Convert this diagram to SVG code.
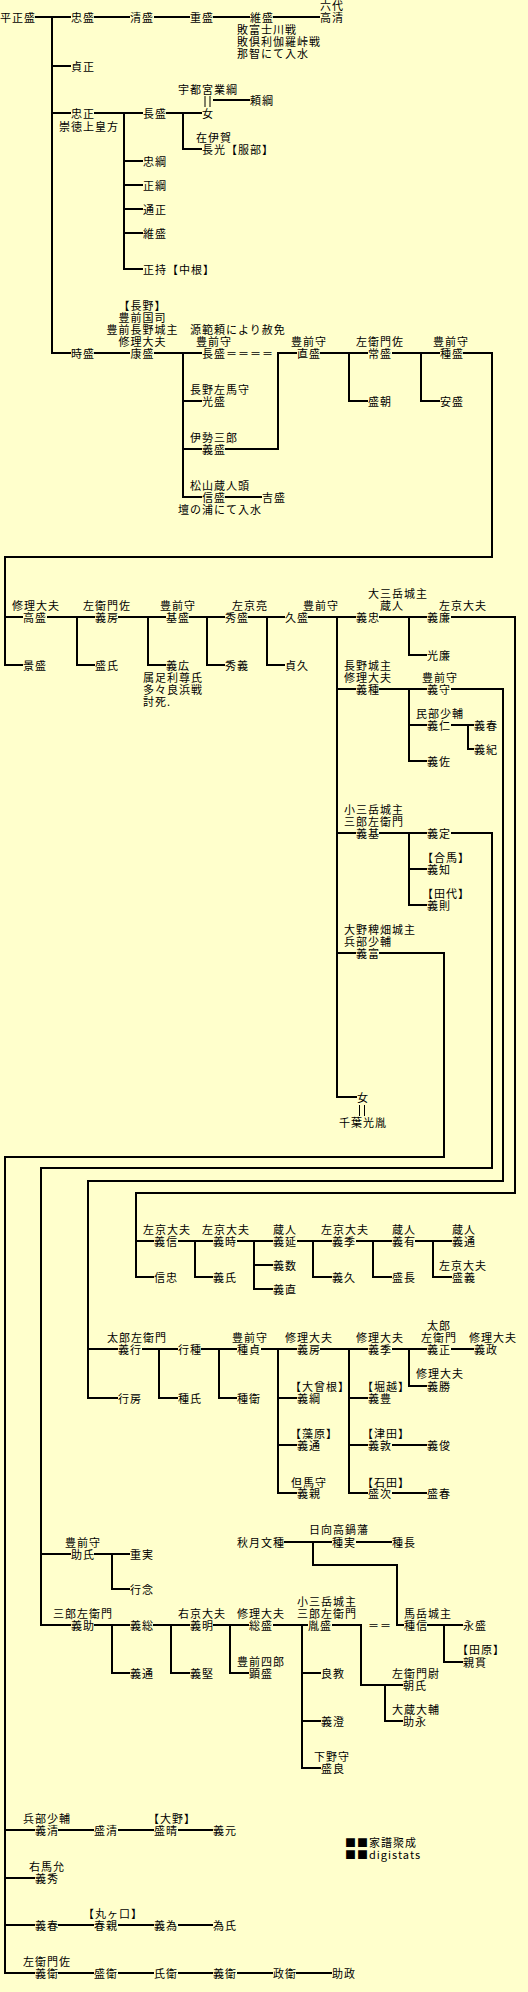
<svg xmlns="http://www.w3.org/2000/svg" width="528" height="1992" viewBox="0 0 528 1992">
<style>
text{font-family:"Noto Sans CJK JP","Noto Sans CJK SC",sans-serif;font-size:11px;letter-spacing:1px;fill:#000;dominant-baseline:central}
.m{text-anchor:middle}
#connectors path{fill:none;stroke:#000;stroke-width:2;stroke-linejoin:miter}
#connectors .thin{stroke-width:1}
</style>
<rect width="528" height="1992" fill="#FFFFCC"/>
<g id="connectors">
<path d="M35,17H71M52,17V353H71M94,17H130M154,17H190M213,17H250M273,17H320"/>
<path d="M52,66H71M52,113H71M94,113H143M124,113V269H143M124,161H143M124,185H143M124,209H143M124,233H143"/>
<path d="M166,113H202M183,113V149H202M213,100H250"/>
<path class="thin" d="M205,96V107M210,96V107M359.5,1105V1116M364.5,1105V1116"/>
<path d="M94,353H130M154,353H202M183,353V497H202M183,401H202M183,449H202M225,449H278V353H297M225,497H262"/>
<path d="M320,353H368M349,353V401H368M392,353H440M421,353V401H440M463,353H492V557H5V665H23M5,617H23"/>
<path d="M47,617H95M77,617V665H95M118,617H166M148,617V665H166M189,617H225M207,617V665H225M248,617H285M267,617V665H285"/>
<path d="M308,617H356M337,617V1097H357M379,617H427M409,617V655H427M451,617H515V1193H136V1277H154M136,1241H154"/>
<path d="M337,689H356M379,689H427M409,689V761H427M409,725H427M451,689H503V1181H88V1398H118M88,1349H118M451,725H474M468,725V749H474"/>
<path d="M337,833H356M379,833H427M409,833V905H427M409,869H427M451,833H492V1168H41V1625H71M41,1554H71"/>
<path d="M337,953H356M379,953H444V1157H5V1973H35M5,1830H35M5,1878H35M5,1925H35"/>
<path d="M178,1241H213M195,1241V1277H213M237,1241H273M254,1241V1289H273M254,1265H273M297,1241H332M313,1241V1277H332M356,1241H392M373,1241V1277H392M415,1241H452M433,1241V1277H452"/>
<path d="M142,1349H178M159,1349V1398H178M201,1349H237M219,1349V1398H237M261,1349H297M278,1349V1493H297M278,1398H297M278,1445H297"/>
<path d="M320,1349H368M349,1349V1493H368M349,1398H368M349,1445H368M392,1445H427M392,1493H427M392,1349H427M409,1349V1386H427M451,1349H474"/>
<path d="M284,1542H332M356,1542H392M313,1542V1565H397V1625H404"/>
<path d="M94,1554H130M112,1554V1589H130M94,1625H130M112,1625V1673H130M153,1625H190M171,1625V1673H190M213,1625H249M230,1625V1673H249M273,1625H308M302,1625V1768H321M302,1673H321M302,1721H321"/>
<path d="M332,1625H361V1685H403M385,1685V1721H403M427,1625H463M444,1625V1662H463"/>
<path d="M58,1830H94M118,1830H154M178,1830H213M58,1925H94M118,1925H154M178,1925H213M58,1973H94M118,1973H154M178,1973H213M237,1973H273M296,1973H332"/>
</g>
<g id="n_masamori"><text x="0" y="17">平正盛</text></g>
<g id="n_tadamori"><text x="71" y="17">忠盛</text></g>
<g id="n_kiyomori"><text x="130" y="17">清盛</text></g>
<g id="n_shigemori"><text x="190" y="17">重盛</text></g>
<g id="n_koremori"><text><tspan x="250" y="17">維盛</tspan><tspan x="237" y="29">敗富士川戦</tspan><tspan x="237" y="41">敗倶利伽羅峠戦</tspan><tspan x="237" y="53">那智にて入水</tspan></text></g>
<g id="n_takakiyo"><text><tspan x="320" y="5">六代</tspan><tspan x="320" y="17">高清</tspan></text></g>
<g id="n_sadamasa"><text x="71" y="66">貞正</text></g>
<g id="n_tadamasa"><text><tspan x="71" y="113">忠正</tspan><tspan x="59" y="126">崇徳上皇方</tspan></text></g>
<g id="n_nagamori1"><text x="143" y="113">長盛</text></g>
<g id="n_narituna"><text x="178" y="89">宇都宮業綱</text></g>
<g id="n_onna1"><text x="202" y="113">女</text></g>
<g id="n_yorituna"><text x="250" y="100">頼綱</text></g>
<g id="n_nagamitsu"><text><tspan x="196" y="137">在伊賀</tspan><tspan x="202" y="149">長光【服部】</tspan></text></g>
<g id="n_tadatuna"><text x="143" y="161">忠綱</text></g>
<g id="n_masatuna"><text x="143" y="185">正綱</text></g>
<g id="n_michimasa"><text x="143" y="209">通正</text></g>
<g id="n_koremori2"><text x="143" y="233">維盛</text></g>
<g id="n_masamochi"><text x="143" y="269">正持【中根】</text></g>
<g id="n_yasumori"><text class="m"><tspan x="142.5" y="305">【長野】</tspan><tspan x="142.5" y="317">豊前国司</tspan><tspan x="142.5" y="329">豊前長野城主</tspan><tspan x="142.5" y="341">修理大夫</tspan><tspan x="142.5" y="353">康盛</tspan></text></g>
<g id="n_tokimori"><text x="71" y="353">時盛</text></g>
<g id="n_nagamori2"><text><tspan x="190" y="329">源範頼により赦免</tspan><tspan x="196" y="341">豊前守</tspan><tspan x="202" y="353">長盛＝＝＝＝</tspan></text></g>
<g id="n_mitsumori"><text><tspan x="190" y="389">長野左馬守</tspan><tspan x="202" y="401">光盛</tspan></text></g>
<g id="n_yoshimori"><text><tspan x="190" y="437">伊勢三郎</tspan><tspan x="202" y="449">義盛</tspan></text></g>
<g id="n_nobumori"><text><tspan x="190" y="485">松山蔵人頭</tspan><tspan x="202" y="497">信盛</tspan><tspan x="178" y="509">壇の浦にて入水</tspan></text></g>
<g id="n_yoshimori2"><text x="262" y="497">吉盛</text></g>
<g id="n_naomori"><text><tspan x="291" y="341">豊前守</tspan><tspan x="297" y="353">直盛</tspan></text></g>
<g id="n_tunemori"><text><tspan x="356" y="341">左衛門佐</tspan><tspan x="368" y="353">常盛</tspan></text></g>
<g id="n_moritomo"><text x="368" y="401">盛朝</text></g>
<g id="n_tanemori"><text><tspan x="433" y="341">豊前守</tspan><tspan x="440" y="353">種盛</tspan></text></g>
<g id="n_yasumori2"><text x="440" y="401">安盛</text></g>
<g id="n_takamori"><text><tspan x="12" y="605">修理大夫</tspan><tspan x="23" y="617">高盛</tspan></text></g>
<g id="n_kagemori"><text x="23" y="665">景盛</text></g>
<g id="n_yoshifusa"><text><tspan x="83" y="605">左衛門佐</tspan><tspan x="95" y="617">義房</tspan></text></g>
<g id="n_moriuji"><text x="95" y="665">盛氏</text></g>
<g id="n_motomori"><text><tspan x="160" y="605">豊前守</tspan><tspan x="166" y="617">基盛</tspan></text></g>
<g id="n_yoshihiro"><text><tspan x="166" y="665">義広</tspan><tspan x="143" y="677">属足利尊氏</tspan><tspan x="143" y="689">多々良浜戦</tspan><tspan x="143" y="701">討死.</tspan></text></g>
<g id="n_hidemori"><text><tspan x="232" y="605">左京亮</tspan><tspan x="225" y="617">秀盛</tspan></text></g>
<g id="n_hideyoshi"><text x="225" y="665">秀義</text></g>
<g id="n_hisamori"><text><tspan x="303" y="605">豊前守</tspan><tspan x="285" y="617">久盛</tspan></text></g>
<g id="n_sadahisa"><text x="285" y="665">貞久</text></g>
<g id="n_yoshitada"><text><tspan x="368" y="593">大三岳城主</tspan><tspan x="380" y="605">蔵人</tspan><tspan x="356" y="617">義忠</tspan></text></g>
<g id="n_yoshikado"><text><tspan x="439" y="605">左京大夫</tspan><tspan x="427" y="617">義廉</tspan></text></g>
<g id="n_mitsukado"><text x="427" y="655">光廉</text></g>
<g id="n_yoshitane"><text><tspan x="344" y="665">長野城主</tspan><tspan x="344" y="677">修理大夫</tspan><tspan x="356" y="689">義種</tspan></text></g>
<g id="n_yoshimori3"><text><tspan x="422" y="677">豊前守</tspan><tspan x="427" y="689">義守</tspan></text></g>
<g id="n_yoshihito"><text><tspan x="416" y="713">民部少輔</tspan><tspan x="427" y="725">義仁</tspan></text></g>
<g id="n_yoshiharu1"><text x="474" y="725">義春</text></g>
<g id="n_yoshinori1"><text x="474" y="749">義紀</text></g>
<g id="n_yoshisuke1"><text x="427" y="761">義佐</text></g>
<g id="n_yoshimoto"><text><tspan x="344" y="809">小三岳城主</tspan><tspan x="344" y="821">三郎左衛門</tspan><tspan x="356" y="833">義基</tspan></text></g>
<g id="n_yoshisada"><text x="427" y="833">義定</text></g>
<g id="n_yoshitomo"><text><tspan x="422" y="857">【合馬】</tspan><tspan x="427" y="869">義知</tspan></text></g>
<g id="n_yoshinori2"><text><tspan x="422" y="893">【田代】</tspan><tspan x="427" y="905">義則</tspan></text></g>
<g id="n_yoshitomi"><text><tspan x="344" y="929">大野稗畑城主</tspan><tspan x="344" y="941">兵部少輔</tspan><tspan x="356" y="953">義富</tspan></text></g>
<g id="n_onna2"><text><tspan x="357" y="1097">女</tspan><tspan x="339" y="1122">千葉光胤</tspan></text></g>
<g id="n_yoshinobu"><text><tspan x="143" y="1229">左京大夫</tspan><tspan x="154" y="1241">義信</tspan></text></g>
<g id="n_nobutada"><text x="154" y="1277">信忠</text></g>
<g id="n_yoshitoki"><text><tspan x="202" y="1229">左京大夫</tspan><tspan x="213" y="1241">義時</tspan></text></g>
<g id="n_yoshiuji"><text x="213" y="1277">義氏</text></g>
<g id="n_yoshinobu2"><text><tspan x="273" y="1229">蔵人</tspan><tspan x="273" y="1241">義延</tspan></text></g>
<g id="n_yoshikazu"><text x="273" y="1265">義数</text></g>
<g id="n_yoshinao"><text x="273" y="1289">義直</text></g>
<g id="n_yoshisue1"><text><tspan x="321" y="1229">左京大夫</tspan><tspan x="332" y="1241">義季</tspan></text></g>
<g id="n_yoshihisa"><text x="332" y="1277">義久</text></g>
<g id="n_yoshiari"><text><tspan x="392" y="1229">蔵人</tspan><tspan x="392" y="1241">義有</tspan></text></g>
<g id="n_torinaga"><text x="392" y="1277">盛長</text></g>
<g id="n_yoshimichi1"><text><tspan x="452" y="1229">蔵人</tspan><tspan x="452" y="1241">義通</tspan></text></g>
<g id="n_moriyoshi"><text><tspan x="439" y="1265">左京大夫</tspan><tspan x="452" y="1277">盛義</tspan></text></g>
<g id="n_yoshiyuki"><text><tspan x="107" y="1337">太郎左衛門</tspan><tspan x="118" y="1349">義行</tspan></text></g>
<g id="n_yukifusa"><text x="118" y="1398">行房</text></g>
<g id="n_yukitane"><text x="178" y="1349">行種</text></g>
<g id="n_taneuji"><text x="178" y="1398">種氏</text></g>
<g id="n_tanesada"><text><tspan x="232" y="1337">豊前守</tspan><tspan x="237" y="1349">種貞</tspan></text></g>
<g id="n_tanehira"><text x="237" y="1398">種衛</text></g>
<g id="n_yoshifusa2"><text><tspan x="285" y="1337">修理大夫</tspan><tspan x="297" y="1349">義房</tspan></text></g>
<g id="n_yoshituna"><text><tspan x="290" y="1386">【大曾根】</tspan><tspan x="297" y="1398">義綱</tspan></text></g>
<g id="n_yoshimichi2"><text><tspan x="290" y="1433">【藻原】</tspan><tspan x="297" y="1445">義通</tspan></text></g>
<g id="n_yoshichika"><text><tspan x="291" y="1482">但馬守</tspan><tspan x="297" y="1493">義親</tspan></text></g>
<g id="n_yoshisue2"><text><tspan x="356" y="1337">修理大夫</tspan><tspan x="368" y="1349">義季</tspan></text></g>
<g id="n_yoshitoyo"><text><tspan x="362" y="1386">【堀越】</tspan><tspan x="368" y="1398">義豊</tspan></text></g>
<g id="n_yoshiatsu"><text><tspan x="362" y="1433">【津田】</tspan><tspan x="368" y="1445">義敦</tspan></text></g>
<g id="n_yoshitoshi"><text x="427" y="1445">義俊</text></g>
<g id="n_moritsugu"><text><tspan x="362" y="1482">【石田】</tspan><tspan x="368" y="1493">盛次</tspan></text></g>
<g id="n_moriharu"><text x="427" y="1493">盛春</text></g>
<g id="n_yoshimasa"><text><tspan x="427" y="1325">太郎</tspan><tspan x="421" y="1337">左衛門</tspan><tspan x="427" y="1349">義正</tspan></text></g>
<g id="n_yoshimasa2"><text><tspan x="469" y="1337">修理大夫</tspan><tspan x="474" y="1349">義政</tspan></text></g>
<g id="n_yoshikatsu"><text><tspan x="416" y="1373">修理大夫</tspan><tspan x="427" y="1386">義勝</tspan></text></g>
<g id="n_akizuki"><text x="237" y="1542">秋月文種</text></g>
<g id="n_tanezane"><text><tspan x="309" y="1529">日向高鍋藩</tspan><tspan x="332" y="1542">種実</tspan></text></g>
<g id="n_tanenaga"><text x="392" y="1542">種長</text></g>
<g id="n_sukeuji"><text><tspan x="65" y="1542">豊前守</tspan><tspan x="71" y="1554">助氏</tspan></text></g>
<g id="n_shigezane"><text x="130" y="1554">重実</text></g>
<g id="n_gyonen"><text x="130" y="1589">行念</text></g>
<g id="n_yoshisuke2"><text><tspan x="53" y="1613">三郎左衛門</tspan><tspan x="71" y="1625">義助</tspan></text></g>
<g id="n_yoshifusa3"><text x="130" y="1625">義総</text></g>
<g id="n_yoshimichi3"><text x="130" y="1673">義通</text></g>
<g id="n_yoshiaki"><text><tspan x="178" y="1613">右京大夫</tspan><tspan x="190" y="1625">義明</tspan></text></g>
<g id="n_yoshikata"><text x="190" y="1673">義堅</text></g>
<g id="n_fusamori"><text><tspan x="237" y="1613">修理大夫</tspan><tspan x="249" y="1625">総盛</tspan></text></g>
<g id="n_akimori"><text><tspan x="237" y="1661">豊前四郎</tspan><tspan x="249" y="1673">顕盛</tspan></text></g>
<g id="n_tanemori2"><text><tspan x="297" y="1601">小三岳城主</tspan><tspan x="297" y="1613">三郎左衛門</tspan><tspan x="308" y="1625">胤盛</tspan></text><text x="368" y="1625">＝＝</text></g>
<g id="n_yoshinori3"><text x="321" y="1673">良教</text></g>
<g id="n_yoshizumi"><text x="321" y="1721">義澄</text></g>
<g id="n_moriyoshi2"><text><tspan x="314" y="1756">下野守</tspan><tspan x="321" y="1768">盛良</tspan></text></g>
<g id="n_tanenobu"><text><tspan x="404" y="1613">馬岳城主</tspan><tspan x="404" y="1625">種信</tspan></text></g>
<g id="n_nagamori3"><text x="463" y="1625">永盛</text></g>
<g id="n_chikanuki"><text><tspan x="457" y="1649">【田原】</tspan><tspan x="463" y="1662">親貫</tspan></text></g>
<g id="n_tomouji"><text><tspan x="392" y="1673">左衛門尉</tspan><tspan x="403" y="1685">朝氏</tspan></text></g>
<g id="n_sukenaga"><text><tspan x="392" y="1709">大蔵大輔</tspan><tspan x="403" y="1721">助永</tspan></text></g>
<g id="n_yoshikiyo"><text><tspan x="23" y="1818">兵部少輔</tspan><tspan x="35" y="1830">義清</tspan></text></g>
<g id="n_morikiyo"><text x="94" y="1830">盛清</text></g>
<g id="n_moriharu2"><text><tspan x="148" y="1818">【大野】</tspan><tspan x="154" y="1830">盛晴</tspan></text></g>
<g id="n_yoshimoto2"><text x="213" y="1830">義元</text></g>
<g id="n_yoshihide"><text><tspan x="29" y="1866">右馬允</tspan><tspan x="35" y="1878">義秀</tspan></text></g>
<g id="n_yoshiharu2"><text x="35" y="1925">義春</text></g>
<g id="n_haruchika"><text><tspan x="83" y="1913">【丸ヶ口】</tspan><tspan x="94" y="1925">春親</tspan></text></g>
<g id="n_yoshitame"><text x="154" y="1925">義為</text></g>
<g id="n_tameuji"><text x="213" y="1925">為氏</text></g>
<g id="n_yoshihira"><text><tspan x="23" y="1961">左衛門佐</tspan><tspan x="35" y="1973">義衛</tspan></text></g>
<g id="n_morihira"><text x="94" y="1973">盛衛</text></g>
<g id="n_ujihira"><text x="154" y="1973">氏衛</text></g>
<g id="n_yoshihira2"><text x="213" y="1973">義衛</text></g>
<g id="n_masahira"><text x="273" y="1973">政衛</text></g>
<g id="n_sukemasa"><text x="332" y="1973">助政</text></g>
<g id="legend"><text><tspan x="345" y="1842">■■家譜聚成</tspan><tspan x="345" y="1854">■■digistats</tspan></text></g>
</svg>
